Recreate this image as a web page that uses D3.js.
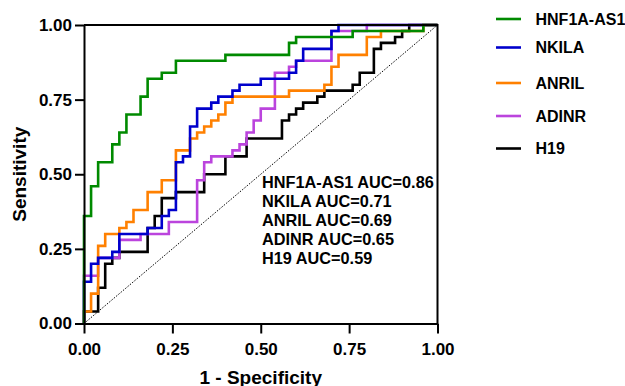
<!DOCTYPE html>
<html>
<head>
<meta charset="utf-8">
<script src="https://cdn.jsdelivr.net/npm/d3@7"></script>
<style>
  body { margin: 0; background: #fff; }
  text { font-family: "Liberation Sans", Arial, sans-serif; font-weight: bold; }
</style>
</head>
<body>
<div id="wrapper"></div>
<script>
// ROC curves: at each fpr value the curve steps up to the matching tpr
const seriesNames = ["HNF1A-AS1", "NKILA", "ANRIL", "ADINR", "H19"];
const seriesColors = ["#008a00", "#0000cc", "#ff8000", "#bb44dd", "#000000"];
const aucLabels = ["HNF1A-AS1 AUC=0.86", "NKILA AUC=0.71", "ANRIL AUC=0.69", "ADINR AUC=0.65", "H19 AUC=0.59"];
const tickValues = [0, 0.25, 0.5, 0.75, 1];

const hnfFpr = [0, 0, 0.02, 0.04, 0.08, 0.10, 0.12, 0.16, 0.18, 0.22, 0.26, 0.40, 0.58, 0.60, 0.76, 0.96, 1.0];
const hnfTpr = [0, 0.36, 0.46, 0.54, 0.60, 0.64, 0.70, 0.76, 0.82, 0.84, 0.88, 0.90, 0.94, 0.96, 0.98, 1.0, 1.0];

const nkilaFpr = [0, 0, 0.02, 0.04, 0.08, 0.10, 0.18, 0.22, 0.24, 0.26, 0.28, 0.30, 0.32, 0.36, 0.38, 0.42, 0.44, 0.50, 0.58, 0.60, 0.62, 0.70, 0.72, 1.0];
const nkilaTpr = [0, 0.14, 0.20, 0.22, 0.24, 0.30, 0.32, 0.36, 0.38, 0.54, 0.56, 0.66, 0.72, 0.74, 0.76, 0.78, 0.80, 0.82, 0.84, 0.88, 0.92, 0.98, 1.0, 1.0];

const anrilFpr = [0, 0, 0.02, 0.04, 0.06, 0.10, 0.12, 0.14, 0.18, 0.22, 0.26, 0.30, 0.32, 0.34, 0.36, 0.38, 0.40, 0.42, 0.58, 0.68, 0.70, 0.72, 0.80, 0.84, 0.96, 1.0];
const anrilTpr = [0, 0.04, 0.10, 0.26, 0.30, 0.32, 0.34, 0.38, 0.44, 0.48, 0.58, 0.62, 0.64, 0.66, 0.68, 0.70, 0.74, 0.76, 0.78, 0.80, 0.86, 0.90, 0.96, 0.98, 1.0, 1.0];

const adinrFpr = [0, 0, 0.04, 0.10, 0.16, 0.24, 0.32, 0.34, 0.36, 0.42, 0.44, 0.46, 0.48, 0.50, 0.54, 0.58, 0.60, 0.70, 0.80, 1.0];
const adinrTpr = [0, 0.16, 0.22, 0.28, 0.30, 0.34, 0.48, 0.54, 0.56, 0.58, 0.60, 0.64, 0.68, 0.72, 0.84, 0.86, 0.88, 0.98, 1.0, 1.0];

const h19Fpr = [0, 0, 0.04, 0.06, 0.08, 0.10, 0.18, 0.20, 0.22, 0.26, 0.34, 0.40, 0.46, 0.56, 0.58, 0.60, 0.62, 0.66, 0.68, 0.76, 0.78, 0.82, 0.84, 0.88, 0.90, 0.92, 1.0];
const h19Tpr = [0, 0.04, 0.12, 0.20, 0.22, 0.24, 0.32, 0.36, 0.42, 0.44, 0.50, 0.56, 0.62, 0.68, 0.70, 0.72, 0.74, 0.76, 0.78, 0.80, 0.84, 0.92, 0.94, 0.96, 0.98, 1.0, 1.0];

const fprs = [hnfFpr, nkilaFpr, anrilFpr, adinrFpr, h19Fpr];
const tprs = [hnfTpr, nkilaTpr, anrilTpr, adinrTpr, h19Tpr];

function drawRoc() {
  const width = 625;
  const height = 386;
  const margin = { top: 25, right: 187.5, bottom: 62.5, left: 84 };

  const svg = d3.select("#wrapper")
    .append("svg")
    .attr("width", width)
    .attr("height", height);

  const x = d3.scaleLinear().domain([0, 1]).range([margin.left, width - margin.right]);
  const y = d3.scaleLinear().domain([0, 1]).range([height - margin.bottom, margin.top]);

  // chance line
  svg.append("line")
    .attr("x1", x(0)).attr("y1", y(0))
    .attr("x2", x(1)).attr("y2", y(1))
    .attr("stroke", "#000")
    .attr("stroke-width", 1)
    .attr("stroke-dasharray", "1.5,1.5");

  const line = d3.line()
    .x((d) => x(d[0]))
    .y((d) => y(d[1]))
    .curve(d3.curveStepAfter);

  // draw H19 first so the coloured curves lie above it, green on top
  d3.range(seriesNames.length).reverse().forEach((i) => {
    const points = fprs[i].map((f, j) => [f, tprs[i][j]]);
    svg.append("path")
      .datum(points)
      .attr("fill", "none")
      .attr("stroke", seriesColors[i])
      .attr("stroke-width", 2.6)
      .attr("d", line);
  });

  // frame top and right
  svg.append("path")
    .attr("d", `M${x(0)},${y(1)}H${x(1)}V${y(0)}`)
    .attr("fill", "none")
    .attr("stroke", "#000")
    .attr("stroke-width", 2);

  const fmt = d3.format(".2f");
  const xAxis = svg.append("g")
    .attr("transform", `translate(0,${y(0)})`)
    .call(d3.axisBottom(x).tickValues(tickValues).tickFormat(fmt).tickSize(10).tickSizeOuter(0).tickPadding(9));
  const yAxis = svg.append("g")
    .attr("transform", `translate(${x(0)},0)`)
    .call(d3.axisLeft(y).tickValues(tickValues).tickFormat(fmt).tickSize(9).tickSizeOuter(0).tickPadding(3));

  [xAxis, yAxis].forEach((g) => {
    g.select(".domain").attr("stroke-width", 2);
    g.selectAll(".tick line").attr("stroke-width", 2);
    g.selectAll(".tick text")
      .attr("font-size", 17)
      .attr("font-family", "Liberation Sans, Arial, sans-serif")
      .attr("font-weight", "bold")
      .attr("fill", "#000");
  });

  svg.append("text")
    .attr("x", (x(0) + x(1)) / 2)
    .attr("y", 383.5)
    .attr("text-anchor", "middle")
    .attr("font-size", 19)
    .text("1 - Specificity");

  svg.append("text")
    .attr("transform", `translate(26,${(y(0) + y(1)) / 2}) rotate(-90)`)
    .attr("text-anchor", "middle")
    .attr("font-size", 19)
    .text("Sensitivity");

  // AUC annotation
  svg.append("g")
    .selectAll("text")
    .data(aucLabels)
    .enter()
    .append("text")
    .attr("x", 262)
    .attr("y", (_, i) => 187.7 + i * 19)
    .attr("font-size", 16.3)
    .text((d) => d);

  // legend
  const legendY = [19, 47.5, 83, 116, 148.5];
  const legend = svg.append("g")
    .selectAll("g")
    .data(seriesNames)
    .enter()
    .append("g")
    .attr("transform", (_, i) => `translate(0,${legendY[i]})`);

  legend.append("line")
    .attr("x1", 496).attr("x2", 521)
    .attr("stroke", (_, i) => seriesColors[i])
    .attr("stroke-width", 2.6);

  legend.append("text")
    .attr("x", 535.5)
    .attr("dy", "0.36em")
    .attr("font-size", 16)
    .text((d) => d);
}

drawRoc();
</script>
</body>
</html>
